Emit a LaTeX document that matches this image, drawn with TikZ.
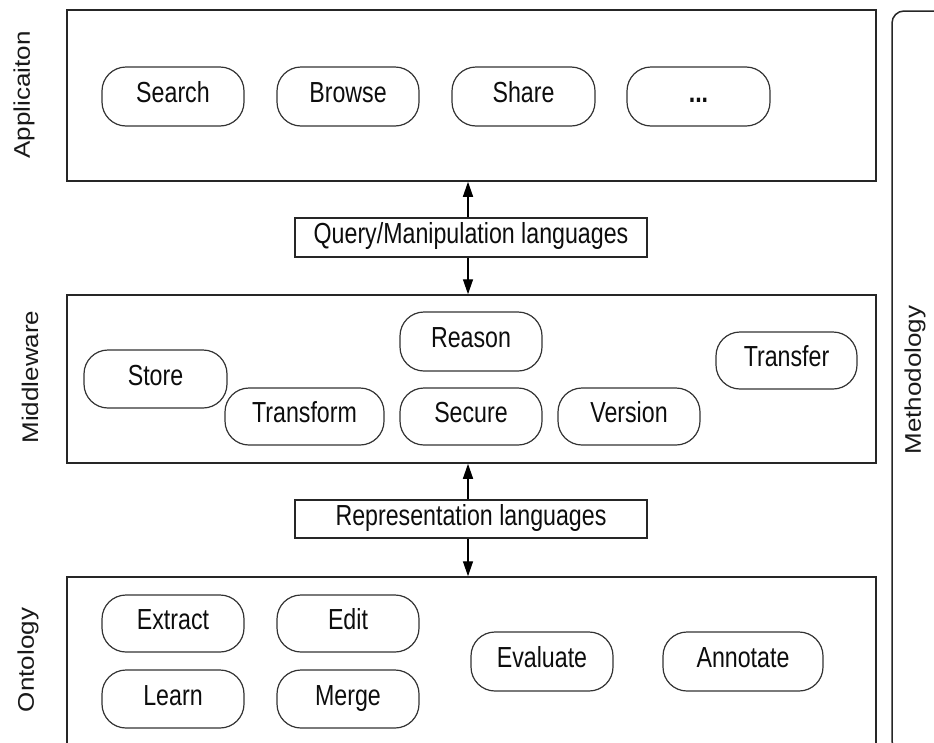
\documentclass[tikz,border=0pt]{standalone}
\usepackage{fontspec}
\setmainfont{Liberation Sans}[FakeStretch=0.8]
\newfontfamily\sidefont{Liberation Sans}
\usetikzlibrary{arrows.meta,calc}

\tikzset{
  layer/.style={draw=black!85, line width=1.5pt},
  boxtext/.style={text=black!95, font=\fontsize{29}{32}\selectfont,
    text height=20pt, text depth=8pt},
  pill/.style={boxtext, draw=black!80, line width=1.2pt, rounded corners=24pt,
    minimum height=58pt, minimum width=142pt, inner sep=0pt},
  langbox/.style={boxtext, draw=black!85, line width=1.4pt, minimum width=352pt,
    minimum height=38pt, inner sep=0pt},
  arr/.style={-{Triangle[length=15pt,width=10pt]}, line width=1.4pt, draw=black},
  sidelabel/.style={inner sep=0pt, text=black!90}
}
\newcommand{\sidetext}[1]{\rotatebox{90}{\scalebox{1}[0.87]{\sidefont\fontsize{26}{30}\selectfont #1}}}

\begin{document}
\begin{tikzpicture}[x=1pt, y=-1pt]
\clip (0,0) rectangle (934,742);

% layers
\node[layer, minimum width=809pt, minimum height=171pt] (app) at (471.5,95.5) {};
\node[layer, minimum width=809pt, minimum height=168pt] (mid) at (471.5,379) {};
\node[layer, minimum width=809pt, minimum height=183pt] (ont) at (471.5,668.5) {};
\node[layer, rounded corners=12pt, minimum width=90pt, minimum height=742pt] (meth) at (937,382) {};

% side labels
\node[sidelabel] (lapp) at (24,95) {\sidetext{Applicaiton}};
\node[sidelabel] (lmid) at (30,377) {\sidetext{Middleware}};
\node[sidelabel] (lont) at (28,660) {\sidetext{Ontology}};
\node[sidelabel] (lmeth) at (915,380) {\sidetext{Methodology}};

% application layer
\node[pill, minimum height=59pt] (search) at (173,96.5) {Search};
\node[pill, minimum height=59pt] (browse) at (348,96.5) {Browse};
\node[pill, minimum height=59pt, minimum width=143pt] (share) at (523.5,96.5) {Share};
\node[pill, minimum height=59pt, minimum width=143pt] (more) at (698.5,96.5) {\textbf{...}};

% middleware layer
\node[pill, minimum width=143pt] (store) at (155.5,379) {Store};
\node[pill, minimum width=159pt, minimum height=57pt] (transform) at (304.5,416.5) {Transform};
\node[pill, minimum height=59pt] (reason) at (471,341.5) {Reason};
\node[pill, minimum height=57pt] (secure) at (471,416.5) {Secure};
\node[pill, minimum height=57pt] (version) at (629,416.5) {Version};
\node[pill, minimum width=141pt, minimum height=57pt] (transfer) at (786.5,360.5) {Transfer};

% ontology layer
\node[pill, minimum height=57pt] (extract) at (173,623.5) {Extract};
\node[pill, minimum height=57pt] (edit) at (348,623.5) {Edit};
\node[pill] (learn) at (173,699) {Learn};
\node[pill] (merge) at (348,699) {Merge};
\node[pill, minimum height=59pt] (evaluate) at (542,661.5) {Evaluate};
\node[pill, minimum width=160pt, minimum height=59pt] (annotate) at (743,661.5) {Annotate};

% language boxes between layers
\node[langbox, minimum height=39pt] (qbox) at (471,237.5) {Query/Manipulation languages};
\node[langbox] (rbox) at (471,519) {Representation languages};

% connectors
\coordinate (ax) at (468,0);
\draw[arr] (qbox.north -| ax) -- (app.south -| ax);
\draw[arr] (qbox.south -| ax) -- (mid.north -| ax);
\draw[arr] (rbox.north -| ax) -- (mid.south -| ax);
\draw[arr] (rbox.south -| ax) -- (ont.north -| ax);
\end{tikzpicture}
\end{document}
